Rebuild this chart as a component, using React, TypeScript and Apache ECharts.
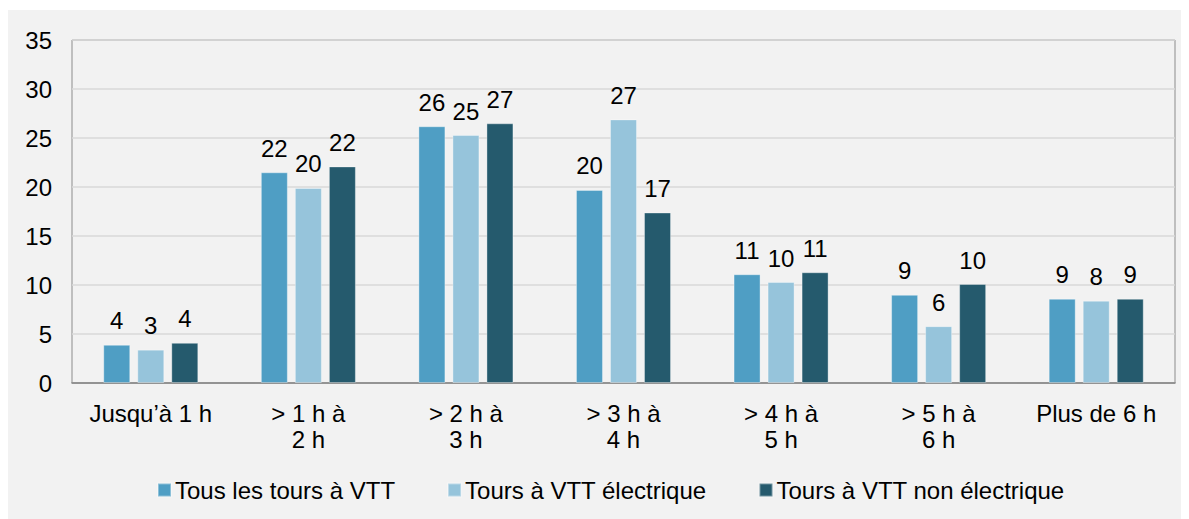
import React, { useEffect, useRef } from "react";
import * as echarts from "echarts";

const categories = ["Jusqu’à 1 h", "> 1 h à\n2 h", "> 2 h à\n3 h", "> 3 h à\n4 h", "> 4 h à\n5 h", "> 5 h à\n6 h", "Plus de 6 h"];
const seriesNames = ["Tous les tours à VTT", "Tours à VTT électrique", "Tours à VTT non électrique"];
const allTours = [3.9, 21.5, 26.2, 19.7, 11.1, 9.0, 8.6];
const electric = [3.4, 19.9, 25.3, 26.9, 10.3, 5.8, 8.4];
const nonElectric = [4.1, 22.1, 26.5, 17.4, 11.3, 10.1, 8.6];
const yTicks = { min: 0, max: 35, interval: 5 };
const colors = ["#4f9ec4", "#96c4db", "#255a6d"];

export default function App() {
  const ref = useRef<HTMLDivElement>(null);
  useEffect(() => {
    if (!ref.current) return;
    const chart = echarts.init(ref.current, null, { renderer: "svg" });
    const font = "Liberation Sans, Arial, sans-serif";
    const data = [allTours, electric, nonElectric];
    chart.setOption({
      animation: false,
      backgroundColor: "#f2f2f2",
      textStyle: { fontFamily: font },
      grid: {
        left: 64,
        right: 14,
        top: 30,
        bottom: 136,
        show: true,
        borderColor: "#8c8c8c",
        borderWidth: 1,
        backgroundColor: "transparent",
      },
      legend: {
        top: 463,
        left: 144,
        itemWidth: 13,
        itemHeight: 13,
        itemGap: 52,
        icon: "rect",
        textStyle: { fontSize: 24, color: "#000", fontFamily: font, padding: [0, 0, 0, -1] },
        data: seriesNames,
      },
      xAxis: {
        type: "category",
        data: categories,
        axisLine: { show: true, lineStyle: { color: "#7f7f7f", width: 1.5 } },
        axisTick: { show: false },
        axisLabel: { fontSize: 24, color: "#000", fontFamily: font, margin: 17, lineHeight: 26, interval: 0 },
      },
      yAxis: {
        type: "value",
        min: yTicks.min,
        max: yTicks.max,
        interval: yTicks.interval,
        axisLine: { show: false },
        axisTick: { show: false },
        splitLine: { lineStyle: { color: "#d9d9d9", width: 1.5 } },
        axisLabel: { fontSize: 24, color: "#000", fontFamily: font, margin: 20 },
      },
      series: seriesNames.map((name, i) => ({
        name,
        type: "bar",
        data: data[i],
        barWidth: 27,
        barGap: "26%",
        itemStyle: { color: colors[i], borderColor: "rgba(255,255,255,0.35)", borderWidth: 1 },
        label: {
          show: true,
          position: "top",
          distance: 12,
          fontSize: 24,
          color: "#000",
          fontFamily: font,
          formatter: (p: any) => String(Math.round(p.value)),
        },
      })),
    });
    return () => chart.dispose();
  }, []);
  return <div ref={ref} style={{ width: 1181, height: 509, marginTop: 2 }} />;
}
